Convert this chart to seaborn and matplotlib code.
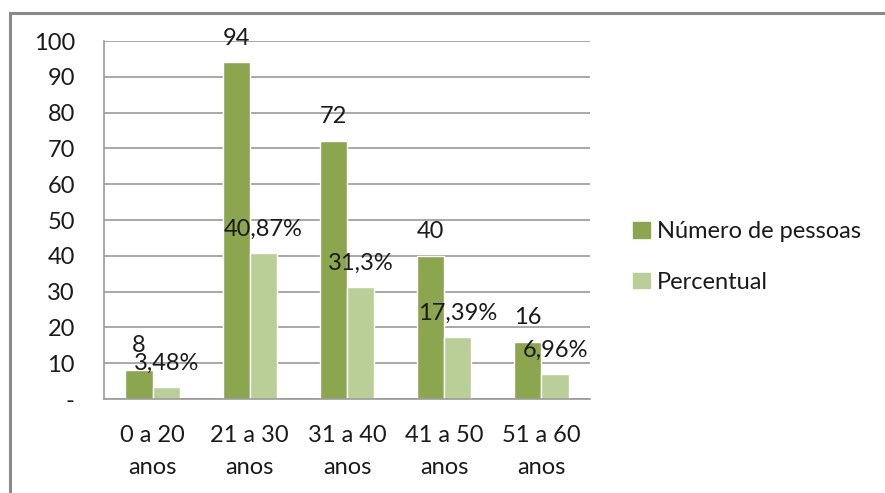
import matplotlib
matplotlib.use("Agg")
import matplotlib.pyplot as plt
import matplotlib.patches as mpatches
import seaborn as sns
import pandas as pd

categories = ["0 a 20\nanos", "21 a 30\nanos", "31 a 40\nanos", "41 a 50\nanos", "51 a 60\nanos"]
pessoas = [8, 94, 72, 40, 16]
percentual = [3.48, 40.87, 31.3, 17.39, 6.96]
percent_labels = ["3,48%", "40,87%", "31,3%", "17,39%", "6,96%"]
series = ["Número de pessoas", "Percentual"]
yticks = [0, 10, 20, 30, 40, 50, 60, 70, 80, 90, 100]
ytick_labels = ["-", "10", "20", "30", "40", "50", "60", "70", "80", "90", "100"]

df = pd.DataFrame({
    "cat": categories * 2,
    "serie": [series[0]] * len(categories) + [series[1]] * len(categories),
    "valor": pessoas + percentual,
})

sns.set_theme(style="white")
plt.rcParams["font.family"] = ["Lato", "DejaVu Sans"]

DARK = "#8BA64F"
LIGHT = "#BACF97"
TXT = "#1a1a1a"
GRID = "#9a9a9a"
FS = 17

fig = plt.figure(figsize=(8.85, 4.93), dpi=100)
ax = fig.add_axes([104 / 885, 1 - 399 / 493, (590 - 104) / 885, (399 - 41) / 493])

sns.barplot(data=df, x="cat", y="valor", hue="serie", palette=[DARK, LIGHT],
            width=0.56, gap=0, ax=ax, legend=False, saturation=1, errorbar=None)

ax.set_ylim(0, 100)
ax.set_xlim(-0.5, 4.5)
ax.set_yticks(yticks)
ax.set_yticklabels(ytick_labels)
ax.set_xlabel("")
ax.set_ylabel("")
ax.yaxis.grid(True, color=GRID, linewidth=1.2)
ax.set_axisbelow(True)
for s in ["top", "right"]:
    ax.spines[s].set_visible(False)
for s in ["left", "bottom"]:
    ax.spines[s].set_color(GRID)
    ax.spines[s].set_linewidth(1.2)

ax.set_xticks([i for i in range(len(categories))])
ax.set_xticklabels(categories, linespacing=1.65)
ax.tick_params(axis="x", length=0, pad=19, labelsize=FS, colors=TXT)
ax.tick_params(axis="y", length=0, pad=21, labelsize=FS, colors=TXT)
for lbl in ax.get_yticklabels():
    lbl.set_horizontalalignment("right")

# category boundary ticks on x axis and small ticks on y axis
ax.set_xticks([i - 0.5 for i in range(len(categories) + 1)], minor=True)
ax.tick_params(axis="x", which="minor", length=8, width=1.2, color=GRID, direction="out")
ax.set_yticks(yticks, minor=True)
ax.tick_params(axis="y", which="minor", length=7, width=1.2, color=GRID, direction="out")

containers = ax.containers
ax.bar_label(containers[0], labels=[str(v) for v in pessoas], padding=10,
             fontsize=FS, color=TXT)
ax.bar_label(containers[1], labels=percent_labels, padding=9.5,
             fontsize=FS, color=TXT)

handles = [mpatches.Patch(color=DARK, label=series[0]),
           mpatches.Patch(color=LIGHT, label=series[1])]
fig.legend(handles=handles, loc="center left", bbox_to_anchor=(612 / 885, 1 - 257 / 493),
           frameon=False, fontsize=FS, labelspacing=1.25, handlelength=0.7,
           handleheight=0.66, handletextpad=0.3, labelcolor=TXT)

# outer frame (partially cropped)
fig.patches.append(mpatches.Rectangle((10 / 885, -0.1), 1.2, 1 - 12.7 / 493 + 0.1,
                                      transform=fig.transFigure, fill=False,
                                      edgecolor="#8a8a8a", linewidth=2.2))

fig.savefig("out.png", dpi=100)
